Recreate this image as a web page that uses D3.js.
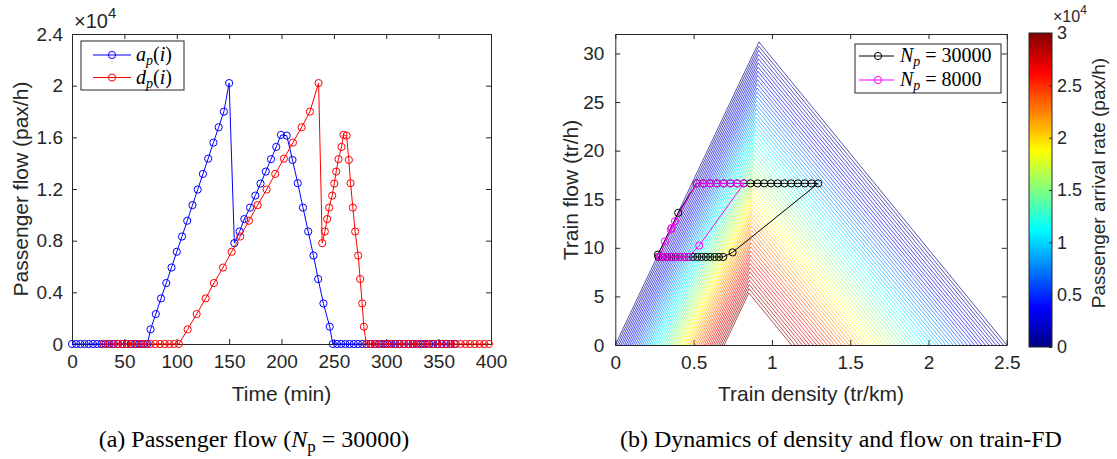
<!DOCTYPE html>
<html>
<head>
<meta charset="utf-8">
<title>Passenger flow and train-FD</title>
<script src="https://cdn.jsdelivr.net/npm/d3@7/dist/d3.min.js"></script>
<style>
  body { margin: 0; background: #fff; }
  svg text { font-family: "Liberation Sans", Arial, Helvetica, sans-serif; fill: #262626; }
  svg text.serif { font-family: "Liberation Serif", "Times New Roman", serif; fill: #000; }
</style>
</head>
<body>
<svg id="fig" width="1117" height="459"></svg>
<script>
// ---------- data: panel (a) ----------
// a_p(i): arrival flow, time in min, flow in pax/h
const arrTime = [0,4,8,12,16,20,24,28,32,36,40,44,48,52,56,60,64,68,72,
  75,80,85,90,95,100,105,110,115,120,125,130,135,140,145,150,
  155,160,164.5,170,175,180,185,190,195,199.5,205,210.5,215.5,220.5,225.5,230.5,235,240,246,249,
  253,257,261,265,269,273,277,281,285,289,293,297,301,305,309,313,317,321,325,329,333,337,341,345,349,353,357,361,365];
const arrFlow = [0,0,0,0,0,0,0,0,0,0,0,0,0,0,0,0,0,0,0,
  1130,2320,3530,4720,5920,7140,8320,9540,10750,11960,13170,14350,15590,16780,17990,20200,
  7810,8710,9670,10560,11490,12420,13350,14310,15260,16190,16130,14250,12450,10560,8710,6850,5030,3140,1340,0,
  0,0,0,0,0,0,0,0,0,0,0,0,0,0,0,0,0,0,0,0,0,0,0,0,0,0,0,0,0];
// d_p(i): departure flow
const depTime = [30,34.5,39,43.5,48,52.5,57,61.5,66,70.5,75,79.5,84,88.5,93,97.5,102,
  110.4,119,127.6,135.5,144.1,152.4,160.6,168.9,177.2,185.8,194,202.3,210.9,219.2,227.1,235.4,
  238.9,241.4,243.6,245.5,248.4,250.4,252.2,254.4,257.3,259.2,262.1,264.3,265.9,268.1,270.3,273.2,275.1,277,278.6,281,
  285.5,290,294.5,299,303.5,308,312.5,317,321.5,326,330.5,335,339.5,344,348.5,353,357.5,362,366.5,371,375.5,380,384.5,389,393.5,398];
const depFlow = [0,0,0,0,0,0,0,0,0,0,0,0,0,0,0,0,0,
  1130,2320,3530,4720,5920,7140,8320,9540,10750,11960,13170,14350,15590,16780,17990,20200,
  7810,8710,9670,10560,11490,12420,13350,14310,15260,16190,16130,14250,12450,10560,8710,6850,5030,3140,1340,0,
  0,0,0,0,0,0,0,0,0,0,0,0,0,0,0,0,0,0,0,0,0,0,0,0,0,0];
const timeTicks = [0,50,100,150,200,250,300,350,400];
const flowTicks = [0,4000,8000,12000,16000,20000,24000];

// ---------- data: panel (b) ----------
// trajectory N_p = 30000 (density tr/km, flow tr/h)
const trajHiK = [0.275,0.303,0.330,0.358,0.385,0.413,0.441,0.468,0.496,0.524,0.551,0.579,0.606,0.634,0.662,0.689,
  0.749,
  1.296,1.253,1.210,1.166,1.123,1.080,1.037,0.994,0.951,0.908,0.864,0.821,0.778,0.735,0.692,0.649,0.605,0.562,0.519,
  0.402,0.272];
const trajHiQ = [9.06,9.06,9.06,9.06,9.06,9.06,9.06,9.06,9.06,9.06,9.06,9.06,9.06,9.06,9.06,9.06,
  9.53,
  16.63,16.63,16.63,16.63,16.63,16.63,16.63,16.63,16.63,16.63,16.63,16.63,16.63,16.63,16.63,16.63,16.63,16.63,16.63,
  13.6,9.3];
// trajectory N_p = 8000
const trajLoK = [0.285,0.311,0.337,0.363,0.389,0.415,0.440,0.466,
  0.536,
  0.822,0.779,0.735,0.692,0.649,0.605,0.562,0.519,
  0.381,0.360,0.355,0.317,0.287];
const trajLoQ = [9.06,9.06,9.06,9.06,9.06,9.06,9.06,9.06,
  10.23,
  16.63,16.63,16.63,16.63,16.63,16.63,16.63,16.63,
  12.74,12.05,11.9,10.66,9.1];
const densTicks = [0,0.5,1,1.5,2,2.5];
const trainFlowTicks = [0,5,10,15,20,25,30];
const rateTicks = [0,5000,10000,15000,20000,25000,30000];

// train-FD family (one triangle per passenger arrival rate)
const fdRates = d3.range(0, 30001, 500);
const fdFree = 34;          // free-flow wave speed (km/h)
const fdBack = 19.7;        // backward wave speed (km/h)
const fdLeftFoot = [0, 0.695];   // left foot density at rate 0 / rate max
const fdRightFoot = [2.5, 1.125];

// jet colormap
const jet = d3.scaleLinear()
  .domain([0, 1/8, 3/8, 5/8, 7/8, 1].map(t => t * 30000))
  .range(["#000084", "#0000ff", "#00ffff", "#ffff00", "#ff0000", "#800000"])
  .clamp(true);

const svg = d3.select("#fig");
const AX = "#262626";
const TICK = 19, LABEL = 21;

function styleAxis(sel, size) {
  sel.attr("font-family", null).attr("font-size", null);
  sel.selectAll(".domain").attr("stroke", AX);
  sel.selectAll(".tick line").attr("stroke", AX);
  sel.selectAll(".tick text").style("font-size", size + "px").attr("fill", AX);
}

function frame(x, y, xt, yt, xfmt, yfmt, ypad) {
  const [x0, x1] = x.range(), [y0, y1] = y.range();
  const g = svg.append("g");
  g.append("rect").attr("x", x0).attr("y", y1).attr("width", x1 - x0).attr("height", y0 - y1).attr("fill", "#fff");
  styleAxis(g.append("g").attr("transform", `translate(0,${y0})`)
    .call(d3.axisBottom(x).tickValues(xt).tickFormat(xfmt).tickSizeInner(-5).tickSizeOuter(0).tickPadding(11)), TICK);
  styleAxis(g.append("g").attr("transform", `translate(0,${y1})`)
    .call(d3.axisTop(x).tickValues(xt).tickFormat("").tickSizeInner(-5).tickSizeOuter(0)), TICK);
  styleAxis(g.append("g").attr("transform", `translate(${x0},0)`)
    .call(d3.axisLeft(y).tickValues(yt).tickFormat(yfmt).tickSizeInner(-5).tickSizeOuter(0).tickPadding(ypad)), TICK);
  styleAxis(g.append("g").attr("transform", `translate(${x1},0)`)
    .call(d3.axisRight(y).tickValues(yt).tickFormat("").tickSizeInner(-5).tickSizeOuter(0)), TICK);
}

function series(x, y, xs, ys, color) {
  const pts = xs.map((v, i) => [x(v), y(ys[i])]);
  const g = svg.append("g");
  g.append("path").attr("d", d3.line()(pts)).attr("fill", "none").attr("stroke", color).attr("stroke-width", 1);
  g.selectAll("circle").data(pts).join("circle")
    .attr("cx", d => d[0]).attr("cy", d => d[1]).attr("r", 3.6)
    .attr("fill", "none").attr("stroke", color).attr("stroke-width", 1);
}

function times10(xp, yp, size, sup) {
  const t = svg.append("text").attr("x", xp).attr("y", yp).style("font-size", size + "px");
  t.append("tspan").text("\u00d710");
  t.append("tspan").attr("dy", -size * 0.48).style("font-size", sup + "px").text("4");
}

// ================= panel (a) =================
const xA = d3.scaleLinear().domain([0, 400]).range([72, 491]);
const yA = d3.scaleLinear().domain([0, 24000]).range([344, 34]);
frame(xA, yA, timeTicks, flowTicks, d3.format("d"), v => d3.format("~g")(v / 1e4), 9);
series(xA, yA, arrTime, arrFlow, "#0000ff");
series(xA, yA, depTime, depFlow, "#ff0000");
times10(74, 28, 20, 15);

svg.append("text").attr("transform", "translate(28,189) rotate(-90)").attr("text-anchor", "middle")
  .style("font-size", LABEL + "px").text("Passenger flow (pax/h)");
svg.append("text").attr("x", 281.5).attr("y", 401).attr("text-anchor", "middle")
  .style("font-size", LABEL + "px").text("Time (min)");

// legend (a)
{
  const g = svg.append("g");
  g.append("rect").attr("x", 81).attr("y", 41).attr("width", 103).attr("height", 49)
    .attr("fill", "#fff").attr("stroke", AX).attr("stroke-width", 1);
  const rows = [{c: "#0000ff", v: "a", y: 55}, {c: "#ff0000", v: "d", y: 77.5}];
  rows.forEach(r => {
    g.append("line").attr("x1", 93).attr("x2", 131).attr("y1", r.y).attr("y2", r.y).attr("stroke", r.c);
    g.append("circle").attr("cx", 112).attr("cy", r.y).attr("r", 3.6).attr("fill", "none").attr("stroke", r.c);
    const t = g.append("text").attr("class", "serif").attr("x", 136).attr("y", r.y + 6).style("font-size", "20px");
    t.append("tspan").style("font-style", "italic").text(r.v);
    t.append("tspan").attr("dy", 4).style("font-style", "italic").style("font-size", "14px").text("p");
    t.append("tspan").attr("dy", -4).text("(");
    t.append("tspan").style("font-style", "italic").text("i");
    t.append("tspan").text(")");
  });
}

// ================= panel (b) =================
const xB = d3.scaleLinear().domain([0, 2.5]).range([615.3, 1006.8]);
const yB = d3.scaleLinear().domain([0, 32]).range([345, 34]);
frame(xB, yB, densTicks, trainFlowTicks, d3.format("~g"), d3.format("d"), 11);

// FD family
{
  const g = svg.append("g");
  const fa = d3.scaleLinear().domain([0, 30000]).range(fdLeftFoot);
  const fb = d3.scaleLinear().domain([0, 30000]).range(fdRightFoot);
  fdRates.forEach(p => {
    const a = fa(p), b = fb(p);
    const kc = (fdFree * a + fdBack * b) / (fdFree + fdBack);
    const qc = fdFree * (kc - a);
    g.append("path")
      .attr("d", d3.line()([[xB(a), yB(0)], [xB(kc), yB(qc)], [xB(b), yB(0)]]))
      .attr("fill", "none").attr("stroke", jet(p)).attr("stroke-width", 0.8)
      .attr("stroke-opacity", 0.85);
  });
}
series(xB, yB, trajHiK, trajHiQ, "#000000");
series(xB, yB, trajLoK, trajLoQ, "#ff00ff");

svg.append("text").attr("transform", "translate(578,190) rotate(-90)").attr("text-anchor", "middle")
  .style("font-size", LABEL + "px").text("Train flow (tr/h)");
svg.append("text").attr("x", 811).attr("y", 401).attr("text-anchor", "middle")
  .style("font-size", LABEL + "px").text("Train density (tr/km)");

// legend (b)
{
  const g = svg.append("g");
  g.append("rect").attr("x", 855).attr("y", 44).attr("width", 146).attr("height", 49)
    .attr("fill", "#fff").attr("stroke", AX).attr("stroke-width", 1);
  const rows = [{c: "#000000", v: "30000", y: 56}, {c: "#ff00ff", v: "8000", y: 80}];
  rows.forEach(r => {
    g.append("line").attr("x1", 859).attr("x2", 894).attr("y1", r.y).attr("y2", r.y).attr("stroke", r.c);
    g.append("circle").attr("cx", 878).attr("cy", r.y).attr("r", 3.6).attr("fill", "none").attr("stroke", r.c);
    const t = g.append("text").attr("class", "serif").attr("x", 900).attr("y", r.y + 6).style("font-size", "20px");
    t.append("tspan").style("font-style", "italic").text("N");
    t.append("tspan").attr("dy", 4).style("font-style", "italic").style("font-size", "14px").text("p");
    t.append("tspan").attr("dy", -4).text(" = " + r.v);
  });
}

// colorbar
{
  const cb = {x: 1029, w: 23, top: 33, bot: 347};
  const yC = d3.scaleLinear().domain([0, 30000]).range([cb.bot, cb.top]);
  const grad = svg.append("defs").append("linearGradient").attr("id", "jetgrad")
    .attr("x1", 0).attr("y1", 1).attr("x2", 0).attr("y2", 0);
  d3.range(0, 1.0001, 1/16).forEach(t => {
    grad.append("stop").attr("offset", t).attr("stop-color", jet(t * 30000));
  });
  svg.append("rect").attr("x", cb.x).attr("y", cb.top).attr("width", cb.w).attr("height", cb.bot - cb.top)
    .attr("fill", "url(#jetgrad)").attr("stroke", AX).attr("stroke-width", 1);
  const ax = svg.append("g").attr("transform", `translate(${cb.x + cb.w},0)`)
    .call(d3.axisRight(yC).tickValues(rateTicks).tickFormat(v => d3.format("~g")(v / 1e4))
      .tickSizeInner(-3).tickSizeOuter(0).tickPadding(5));
  styleAxis(ax, 18);
  ax.select(".domain").remove();
  times10(1053, 22, 16, 12);
  svg.append("text").attr("transform", "translate(1105,183) rotate(-90)").attr("text-anchor", "middle")
    .style("font-size", "19px").text("Passenger arrival rate (pax/h)");
}

// captions
{
  const c1 = svg.append("text").attr("class", "serif").attr("x", 254).attr("y", 447)
    .attr("text-anchor", "middle").style("font-size", "24px");
  c1.append("tspan").text("(a) Passenger flow (");
  c1.append("tspan").style("font-style", "italic").text("N");
  c1.append("tspan").attr("dy", 5).style("font-size", "17px").text("p");
  c1.append("tspan").attr("dy", -5).text(" = 30000)");
  svg.append("text").attr("class", "serif").attr("x", 841).attr("y", 447)
    .attr("text-anchor", "middle").style("font-size", "24px")
    .text("(b) Dynamics of density and flow on train-FD");
}
</script>
</body>
</html>
